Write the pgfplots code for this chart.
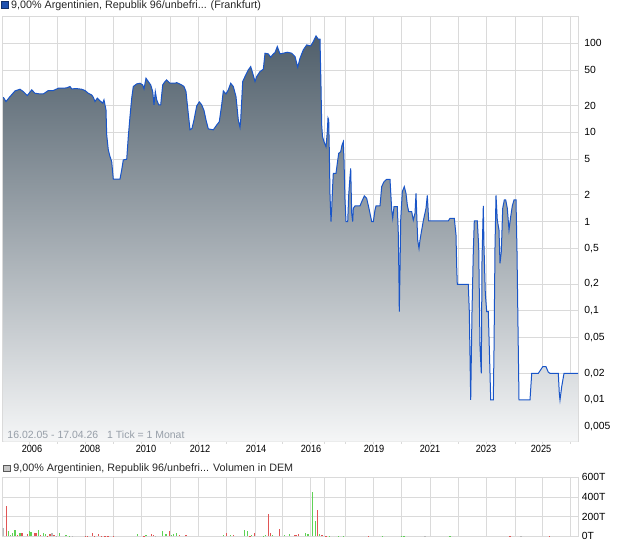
\documentclass[border=0pt]{standalone}
\usepackage{fontspec}
\setmainfont{Liberation Sans}
\newfontfamily\narrowfont[FakeStretch=0.88]{Liberation Sans}
\usepackage{pgfplots}
\usepackage{pgfplotstable}
\pgfplotsset{compat=1.18}
\definecolor{gridgray}{RGB}{218,218,218}
\definecolor{linecol}{RGB}{25,85,200}
\definecolor{filltop}{RGB}{80,95,107}
\definecolor{fillbot}{RGB}{245,246,247}
\definecolor{volgreen}{RGB}{95,210,85}
\definecolor{volred}{RGB}{225,85,85}
\definecolor{volgray}{RGB}{185,185,185}
\definecolor{infogray}{RGB}{150,158,168}
\definecolor{legblue}{RGB}{30,80,175}

\pgfplotstableread{
x y
3.3 24.8
6 22.2
10 25.2
15 29.2
20 30.5
23.3 28.7
27.3 25.9
31.7 30.0
35 27.5
40 27.0
43.3 27.0
48.3 29.5
53.3 29.5
58.3 31.3
63.3 31.3
66.7 31.6
70 32.7
71.7 30.8
76.7 31.0
81.7 30.5
85 29.5
88.3 27.5
91.7 26.3
93.3 24.8
95 22.2
97.3 24.2
100 22.6
102.7 21.3
104 23.2
106 17.9
106.7 9.4
108.3 6.37
110 5.36
111.7 4.71
113.3 3.0
120 3.0
121.7 3.8
123.3 4.92
126.7 5.0
128.3 9.0
130 15.1
131.7 24.2
133.3 32.7
136.7 35.0
140 35.6
142.7 34.1
144 30.8
146 40.5
148.3 37.2
150.7 34.1
152.7 28.7
154 20.4
155.3 28.7
156.7 23.2
158.7 20.4
160.7 20.4
162.7 34.1
165 37.2
166.7 38.8
170 35.6
175 35.6
176.7 36.2
181.7 34.1
184 32.7
186 28.7
187.7 18.7
190 10.7
192 11.1
194 13.8
196.7 19.8
199.3 22.0
201.7 20.4
204 17.6
206 13.8
208.3 10.96
213.3 10.7
216.7 12.1
219.3 13.2
221.7 20.4
223.3 29.2
226 27.0
228.3 30.0
230.7 35.6
233.3 32.7
236 25.2
238.3 13.8
240 11.4
240.7 13.8
242.7 37.2
245 42.3
248.3 50.2
250.7 54.7
252.7 46.1
255 37.2
256.7 42.3
260 48.1
263.3 51.1
265 77.3
268.3 75.9
270.7 69.7
273.3 75.9
275 78.6
277.3 91.8
280 75.9
283.3 77.3
287.3 79.3
291.7 77.3
295 70.9
297.7 53.8
300 67.9
303.3 84.2
306.7 95.8
310.7 93.3
313.3 104.4
316 120.8
318.3 110.9
320 110.9
321 32.7
321.7 12
322.5 9.0
324 7.87
326 6.92
327.3 10.2
328 14.5
328.7 13.8
329.3 6.35
330 1.99
331 1.0
331.7 1.41
332.7 2.57
333.3 3.48
336 3.48
337.3 4.50
338.7 5.82
340.7 6.08
342 7.22
343.3 7.87
344 4.91
345 1.75
346 1.0
347.7 1.0
348.7 1.99
350 3.19
350.7 3.95
351.7 1.24
352.7 1.0
353.3 1.41
355 1.50
360 1.50
361.7 1.67
364.3 1.94
366.7 1.82
369.3 1.35
371.7 1.0
373.3 1.0
375 1.35
376 1.50
380 1.50
381.7 2.47
384 2.80
386.7 2.98
390 2.98
391.7 1.35
392.7 1.09
394 1.47
397.3 1.47
398.3 0.74
399 0.203
399.3 0.098
400 0.287
400.7 1.04
402.3 2.17
404.3 2.47
406 2.07
407.3 1.54
408.7 1.29
411.7 1.29
413.3 1.04
415 1.24
416 2.07
416.7 1.24
417.7 0.622
419 0.501
420 0.622
421.7 0.805
423.3 1.02
426 1.41
427.3 1.97
428.7 1.02
448.3 1.02
450 1.09
454.3 1.09
456 0.708
456.7 0.313
457.3 0.198
468.3 0.198
469.3 0.098
470.7 0.01
472 0.098
473.3 0.46
474.3 1.02
477.3 1.02
478.7 0.524
480 0.0396
481.3 0.0199
482 0.371
483.3 1.50
484 0.524
485.3 0.157
486.7 0.098
488.3 0.098
490 0.0199
490.7 0.01
493.3 0.01
494 0.0364
495 0.524
496 1.97
497.3 1.04
499 0.805
500 0.34
501.3 0.46
502.7 1.41
504.3 1.75
505.7 1.75
507.3 1.41
509 0.805
510.7 1.14
512.3 1.50
514 1.75
516 1.75
517 0.46
518.3 0.0364
519 0.01
530 0.01
531.7 0.0199
538.3 0.0199
542.7 0.0236
546 0.0236
548.3 0.0205
550 0.0199
558.3 0.0199
559.3 0.0119
560 0.01
561.7 0.0141
564 0.0199
578 0.0199
}\pricedata

\pgfplotstableread{
x v
8.3 58
10.3 17
12.7 37
15 64
20 34
29.3 54
31 44
38.3 64
43.3 34
45.3 27
59.3 34
66 14
69.3 7
137.3 24
146 14
162.3 54
166 20
171.7 17
173.7 24
176.3 30
223.3 10
230.7 14
244.3 68
247.3 54
251.7 17
263.3 7
265.3 14
272.3 14
284.3 14
289.3 24
305.3 34
308 24
312.3 454
315.3 159
319.3 24
329.3 3
338.3 3
343.3 3
382.7 3
401.7 3
404 3
450 3
}\volgreen

\pgfplotstableread{
x v
6.3 308
17.3 17
22 34
27.3 24
34.3 34
36 34
40.7 17
47.3 7
50 24
54 17
85.3 3
87.3 7
92.3 34
94.7 7
98.3 20
101.7 7
105 7
108 7
113.3 7
144 7
151.7 24
153.3 14
169.3 58
179.3 14
186 14
226.7 34
233.3 14
250 7
254.3 34
268.3 227
270.3 34
279.3 75
294.3 14
296 14
298.3 24
317.7 271
322 14
326 7
368.3 3
510 3
549.3 3
}\volred

\pgfplotstableread{
x v
3 85
52 34
56.7 7
72.7 3
155.3 7
425 2
521 2
}\volgraytab

\begin{document}
\begin{tikzpicture}
\useasboundingbox (0bp,0bp) rectangle (620bp,546bp);
\begin{axis}[
  at={(2.7bp,104.5bp)}, anchor=south west, scale only axis,
  width=575.3bp, height=425.5bp,
  xmin=2.7, xmax=578, ymode=log, ymin=0.003424, ymax=202,
  log origin y=infty,
  axis line style={gridgray, line width=0.8bp},
  grid=major, grid style={gridgray, line width=0.8bp},
  xtick={29.3,57.3,85.3,113.3,141.7,170,198.7,226.7,255,282.7,310.7,324.3,345,373.3,401.7,430,458.3,486.7,515,542.7,570.7},
  xticklabels={},
  extra x ticks={32,90,146,200,256,311,374,430,486,541},
  extra x tick labels={2006,2008,2010,2012,2014,2016,2019,2021,2023,2025},
  extra x tick style={grid=none, major tick length=0pt},
  xtick pos=bottom, tick align=outside, major tick length=2.5bp,
  xtick style={gridgray, line width=0.8bp},
  xticklabel style={font=\narrowfont\fontsize{10.5}{12}\selectfont, inner sep=0pt, anchor=north, yshift=-3.5bp},
  ytick={0.005,0.01,0.02,0.05,0.1,0.2,0.5,1,2,5,10,20,50,100},
  yticklabels={{0,005},{0,01},{0,02},{0,05},{0,1},{0,2},{0,5},1,2,5,10,20,50,100},
  yminorticks=false,
  yticklabel pos=right, ytick style={draw=none},
  yticklabel style={font=\fontsize{10.4}{12}\selectfont, inner sep=0pt, anchor=west, xshift=3.7bp},
  /pgf/number format/assume math mode=true,
  clip=true,
]
\addplot[draw=none, top color=filltop, bottom color=fillbot] table[x=x,y=y] {\pricedata} \closedcycle;
\addplot[linecol, line width=1bp, mark=none] table[x=x,y=y] {\pricedata};
\end{axis}

\begin{axis}[
  at={(2.7bp,9.7bp)}, anchor=south west, scale only axis,
  width=575.6bp, height=59bp,
  xmin=2.7, xmax=578.3, ymin=0, ymax=600,
  axis line style={gridgray, line width=0.8bp},
  grid=major, grid style={gridgray, line width=0.8bp},
  xtick={29.3,57.3,85.3,113.3,141.7,170,198.7,226.7,255,282.7,310.7,324.3,345,373.3,401.7,430,458.3,486.7,515,542.7,570.7},
  xticklabels={}, xtick style={draw=none},
  ytick={0,200,400,600},
  yticklabels={0T,200T,400T,600T},
  yticklabel pos=right, ytick style={draw=none},
  yticklabel style={font=\fontsize{10.4}{12}\selectfont, inner sep=0pt, anchor=west, xshift=3.4bp},
  /pgf/number format/assume math mode=true,
]
\addplot[ycomb, volgray, line width=1.2bp, mark=none] table[x=x,y=v] {\volgraytab};
\addplot[ycomb, volgreen, line width=1.2bp, mark=none] table[x=x,y=v] {\volgreen};
\addplot[ycomb, volred, line width=1.2bp, mark=none] table[x=x,y=v] {\volred};
\end{axis}

% top legend
\filldraw[fill=legblue, draw=legblue!60!black, line width=0.6bp] (1.5bp,537.8bp) rectangle (8.3bp,544.6bp);
\node[anchor=west, inner sep=0pt, font=\fontsize{10.8}{12}\selectfont, text=black!85] at (11bp,540.6bp) {9,00\% Argentinien, Republik 96/unbefri... (Frankfurt)};
% info text
\node[anchor=base west, inner sep=0pt, text=infogray, font=\fontsize{10.5}{12}\selectfont] at (7.3bp,107.7bp) {16.02.05 - 17.04.26\hspace{9bp}1 Tick = 1 Monat};
% volume legend
\filldraw[fill=black!22, draw=black!65, line width=0.6bp] (3.5bp,74.2bp) rectangle (10bp,80.7bp);
\node[anchor=west, inner sep=0pt, font=\fontsize{10.8}{12}\selectfont, text=black!85] at (13.3bp,77.4bp) {9,00\% Argentinien, Republik 96/unbefri... Volumen in DEM};
\end{tikzpicture}
\end{document}
